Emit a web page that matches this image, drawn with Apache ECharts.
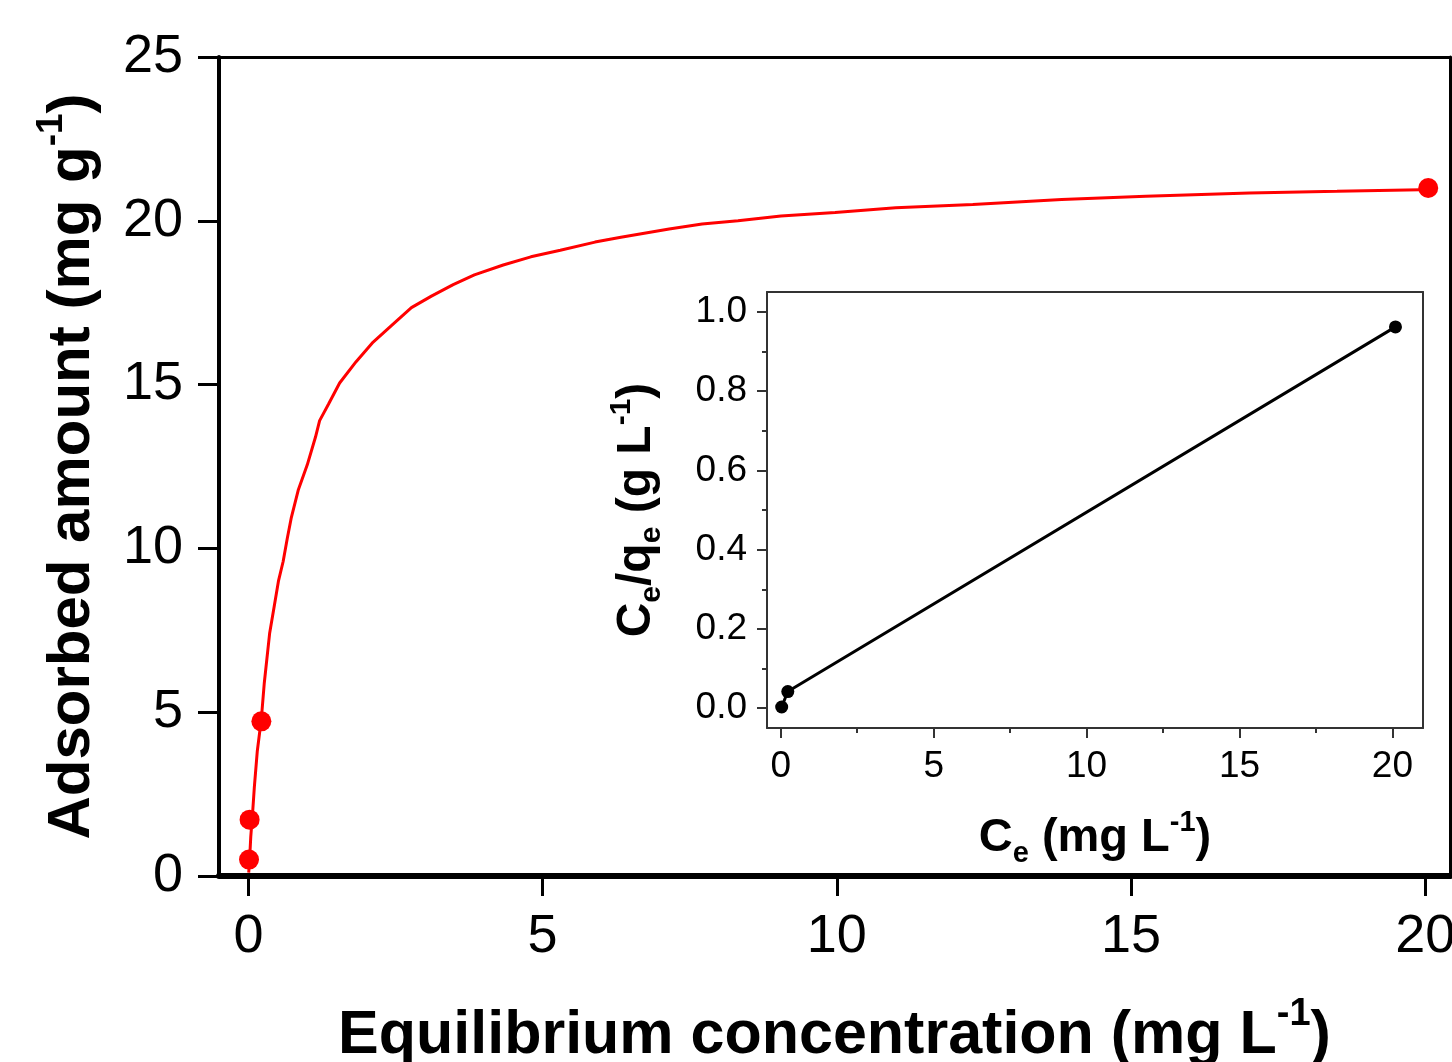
<!DOCTYPE html>
<html>
<head>
<meta charset="utf-8">
<script src="https://cdn.jsdelivr.net/npm/echarts@6/dist/echarts.min.js"></script>
<style>
  html, body { margin: 0; padding: 0; background: #fff; }
  #main { width: 1452px; height: 1062px; }
</style>
</head>
<body>
<div id="main"></div>
<script>
  // main plot: fitted isotherm curve + measured points
  const fitX = [0.005, 0.02, 0.04, 0.07, 0.10, 0.15, 0.22, 0.27, 0.36, 0.44, 0.51, 0.59, 0.66, 0.73, 0.85, 1.00,
                1.14, 1.21, 1.36, 1.55, 1.83, 2.12, 2.43, 2.77, 3.11, 3.48, 3.84, 4.33, 4.80, 5.30, 5.89, 6.33,
                7.15, 7.71, 8.32, 9.05, 9.97, 11.00, 12.31, 13.82, 15.25, 17.01, 18.50, 19.92, 20.05]
  const fitY = [0.1, 0.5, 1.2, 1.9, 2.7, 3.8, 4.8, 5.9, 7.4, 8.25, 9.0, 9.6, 10.3, 10.95, 11.8, 12.55,
                13.4, 13.9, 14.4, 15.05, 15.7, 16.3, 16.8, 17.35, 17.7, 18.05, 18.35, 18.65, 18.9, 19.1, 19.35, 19.5,
                19.75, 19.9, 20.0, 20.15, 20.25, 20.4, 20.5, 20.65, 20.75, 20.85, 20.9, 20.95, 20.95]
  const ptX = [0.01, 0.02, 0.22, 20.05]
  const ptY = [0.5, 1.72, 4.72, 21.0]

  // inset: linearised plot
  const inX = [0.03, 0.23, 20.1]
  const inY = [0.003, 0.042, 0.962]

  // tick labels
  const mainXTicks = [0, 5, 10, 15, 20]
  const insetXTicks = [0, 5, 10, 15, 20]
  const insetXMinor = [2.5, 7.5, 12.5, 17.5]
  const insetYTicks = [0, 0.2, 0.4, 0.6, 0.8, 1.0]
  const insetYMinor = [0.1, 0.3, 0.5, 0.7, 0.9]

  const FONT = 'Liberation Sans, Arial, sans-serif'
  const zip = (a, b) => a.map((v, i) => [v, b[i]])

  function rich(size, lh) {
    return {
      t: { fontSize: size, fontWeight: 'bold', fontFamily: FONT, color: '#000', lineHeight: lh },
      sup: { fontSize: Math.round(size * 0.62), fontWeight: 'bold', fontFamily: FONT, color: '#000',
             verticalAlign: 'top', lineHeight: Math.round(size * 0.62) },
      sub: { fontSize: Math.round(size * 0.62), fontWeight: 'bold', fontFamily: FONT, color: '#000',
             verticalAlign: 'bottom', lineHeight: size }
    }
  }

  const border = (grid, pos, w, color) => ({
    gridIndex: grid, type: 'value', position: pos,
    axisLine: { show: true, onZero: false, lineStyle: { color: color, width: w } },
    axisTick: { show: false }, axisLabel: { show: false }, splitLine: { show: false }
  })

  let chart = echarts.init(document.getElementById('main'))
  let option = {
    animation: false,
    backgroundColor: '#fff',
    grid: [
      { left: 219, right: 2, top: 57, bottom: 186, outerBoundsMode: 'none', containLabel: false },
      { left: 767, right: 29, top: 292, bottom: 334, outerBoundsMode: 'none', containLabel: false,
        show: true, backgroundColor: '#fff', borderWidth: 0 }
    ],
    xAxis: [
      {
        gridIndex: 0, type: 'value', min: -0.5, max: 20.42, position: 'bottom',
        axisLine: { onZero: false, lineStyle: { color: '#000', width: 6 } },
        axisTick: { customValues: mainXTicks, length: 20, lineStyle: { color: '#000', width: 3 } },
        axisLabel: { customValues: mainXTicks, fontSize: 54, fontFamily: FONT, color: '#000', margin: 34 },
        splitLine: { show: false },
        name: '{t|Equilibrium concentration (mg L}{sup|-1}{t|)}',
        nameLocation: 'middle', nameGap: 120,
        nameTextStyle: { rich: rich(61, 80) }
      },
      Object.assign(border(0, 'top', 3, '#000'), { min: -0.5, max: 20.42 }),
      {
        gridIndex: 1, type: 'value', min: -0.45, max: 21, position: 'bottom',
        axisLine: { onZero: false, lineStyle: { color: '#333', width: 2 } },
        axisTick: { customValues: insetXTicks, length: 10, lineStyle: { color: '#333', width: 2 } },
        axisLabel: { customValues: insetXTicks, fontSize: 37, fontFamily: FONT, color: '#000', margin: 20 },
        splitLine: { show: false },
        name: '{t|C}{sub|e}{t| (mg L}{sup|-1}{t|)}',
        nameLocation: 'middle', nameGap: 80,
        nameTextStyle: { rich: rich(47, 60) }
      },
      {
        gridIndex: 1, type: 'value', min: -0.45, max: 21, position: 'bottom',
        axisLine: { show: false, onZero: false },
        axisTick: { customValues: insetXMinor, length: 5, lineStyle: { color: '#333', width: 2 } },
        axisLabel: { show: false }, splitLine: { show: false }
      },
      Object.assign(border(1, 'top', 2, '#333'), { min: -0.45, max: 21 })
    ],
    yAxis: [
      {
        gridIndex: 0, type: 'value', min: 0, max: 25, interval: 5, position: 'left',
        axisLine: { show: true, onZero: false, lineStyle: { color: '#000', width: 4 } },
        axisTick: { length: 21, lineStyle: { color: '#000', width: 3 } },
        axisLabel: { fontSize: 54, fontFamily: FONT, color: '#000', margin: 36 },
        splitLine: { show: false },
        name: '{t|Adsorbed amount (mg g}{sup|-1}{t|)}',
        nameLocation: 'middle', nameRotate: 90, nameGap: 108, nameMoveOverlap: false,
        nameTextStyle: { rich: rich(60, 78) }
      },
      Object.assign(border(0, 'right', 3, '#000'), { min: 0, max: 25 }),
      {
        gridIndex: 1, type: 'value', min: -0.05, max: 1.05, position: 'left',
        axisLine: { show: true, onZero: false, lineStyle: { color: '#333', width: 2 } },
        axisTick: { customValues: insetYTicks, length: 10, lineStyle: { color: '#333', width: 2 } },
        axisLabel: { customValues: insetYTicks, fontSize: 37, fontFamily: FONT, color: '#000', margin: 20,
                     formatter: v => v.toFixed(1) },
        splitLine: { show: false },
        name: '{t|C}{sub|e}{t|/q}{sub|e}{t| (g L}{sup|-1}{t|)}',
        nameLocation: 'middle', nameRotate: 90, nameGap: 100,
        nameTextStyle: { rich: rich(48, 60) }
      },
      {
        gridIndex: 1, type: 'value', min: -0.05, max: 1.05, position: 'left',
        axisLine: { show: false, onZero: false },
        axisTick: { customValues: insetYMinor, length: 5, lineStyle: { color: '#333', width: 2 } },
        axisLabel: { show: false }, splitLine: { show: false }
      },
      Object.assign(border(1, 'right', 2, '#333'), { min: -0.05, max: 1.05 })
    ],
    series: [
      {
        name: 'fit', type: 'line', xAxisIndex: 0, yAxisIndex: 0,
        data: zip(fitX, fitY), showSymbol: false, smooth: false,
        lineStyle: { color: '#ff0000', width: 3 }
      },
      {
        name: 'data', type: 'scatter', xAxisIndex: 0, yAxisIndex: 0,
        data: zip(ptX, ptY), symbol: 'circle', symbolSize: 20,
        itemStyle: { color: '#ff0000', opacity: 1 }
      },
      {
        name: 'linear', type: 'line', xAxisIndex: 2, yAxisIndex: 2,
        data: zip(inX, inY), symbol: 'circle', symbolSize: 13, showSymbol: true,
        lineStyle: { color: '#000', width: 3 }, itemStyle: { color: '#000' }
      }
    ]
  }
  chart.setOption(option)
</script>
</body>
</html>
